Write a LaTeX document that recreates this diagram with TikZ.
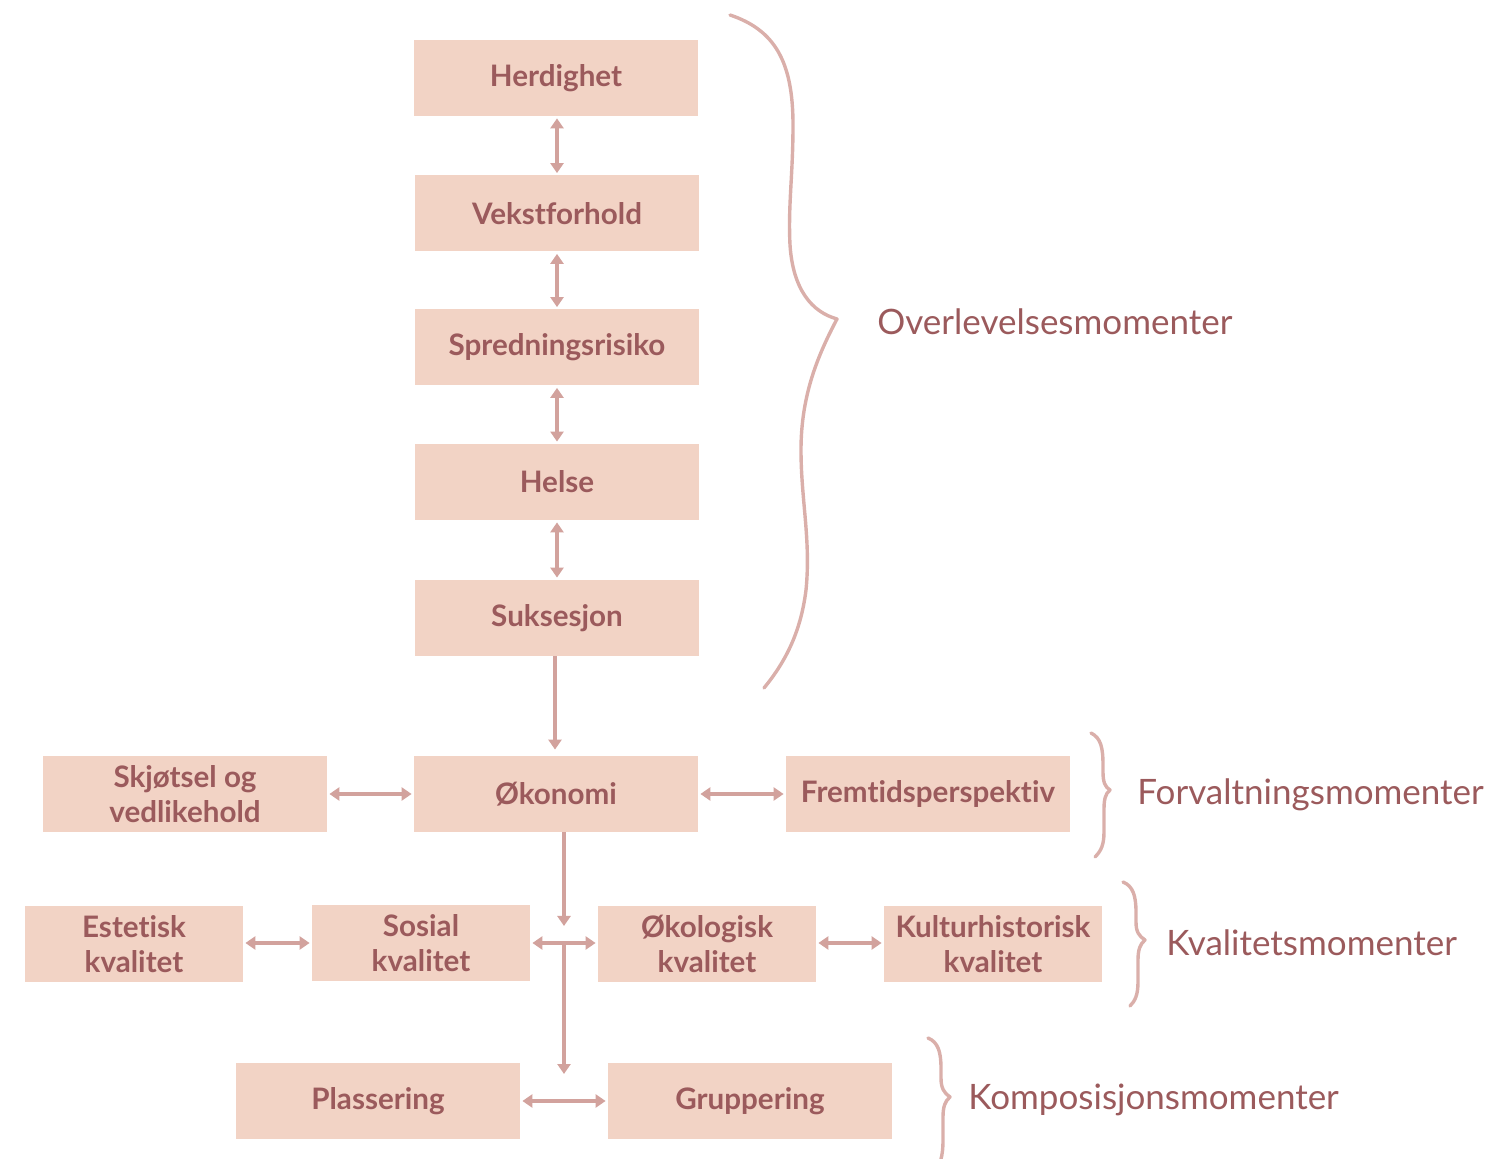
\documentclass[tikz,border=0pt]{standalone}
\usepackage{fontspec}
\setmainfont{Lato}[Ligatures=NoCommon]
\usetikzlibrary{arrows.meta}
\definecolor{boxfill}{HTML}{F2D3C5}
\definecolor{txtcol}{HTML}{9B5A5C}
\definecolor{arrcol}{HTML}{D2A29D}
\definecolor{bracecol}{HTML}{DAAFAA}
\tikzset{
  box/.style={fill=boxfill, inner sep=0pt, text=txtcol, font=\fontsize{14.8}{17.5}\selectfont\bfseries, align=center},
  wbox/.style={box, minimum width=142pt, minimum height=38pt},
  nbox/.style={box, minimum width=109pt, minimum height=38pt},
  conn/.style={draw=arrcol, line width=1.6pt},
  dbl/.style={conn, {Triangle[width=6.5pt,length=5pt]}-{Triangle[width=6.5pt,length=5pt]}},
  sgl/.style={conn, -{Triangle[width=6.5pt,length=5pt]}},
  bracestyle/.style={draw=bracecol, line width=1.7pt, line cap=round, line join=round},
  lab/.style={text=txtcol, font=\fontsize{17.5}{20}\selectfont, anchor=west, inner sep=0pt}
}
\begin{document}
\begin{tikzpicture}[x=0.5pt, y=-0.5pt]
\useasboundingbox (0,0) rectangle (1500,1159);
% top column
\node[wbox] (her) at (556,78) {Herdighet};
\node[wbox] (vek) at (557,213.5) {Vekstforhold};
\node[wbox] (spr) at (557,347.5) {Spredningsrisiko};
\node[wbox] (hel) at (557,482) {Helse};
\node[wbox] (suk) at (557,618) {Suksesjon};
% row Forvaltning
\node[wbox] (oko) at (556,794) {Økonomi};
\node[wbox] (skj) at (185,794) {Skjøtsel og\\vedlikehold};
\node[wbox] (fre) at (928,794) {Fremtidsperspektiv};
% row Kvalitet
\node[nbox] (est) at (134,944) {Estetisk\\kvalitet};
\node[nbox] (sos) at (421,943) {Sosial\\kvalitet};
\node[nbox] (ekol) at (707,944) {Økologisk\\kvalitet};
\node[nbox] (kul) at (993,944) {Kulturhistorisk\\kvalitet};
% row Komposisjon
\node[wbox] (pla) at (378,1101) {Plassering};
\node[wbox] (gru) at (750,1101) {Gruppering};

% vertical double arrows
\draw[dbl] ([yshift=-1pt]her.south -| vek.south) -- ([yshift=1pt]vek.north);
\draw[dbl] ([yshift=-1pt]vek.south) -- ([yshift=1pt]spr.north);
\draw[dbl] ([yshift=-1pt]spr.south) -- ([yshift=1pt]hel.north);
\draw[dbl] ([yshift=-1pt]hel.south) -- ([yshift=1pt]suk.north);
% Suksesjon -> Økonomi
\coordinate (sukx) at (555,0);
\draw[sgl] (suk.south -| sukx) -- ([yshift=3pt]oko.north -| sukx);
% horizontal double arrows
\draw[dbl] ([xshift=1pt]skj.east) -- ([xshift=-1pt]oko.west);
\draw[dbl] ([xshift=1pt]oko.east) -- ([xshift=-1pt]fre.west);
\draw[dbl] ([xshift=1pt]est.east |- sos.east) -- ([xshift=-1pt]sos.west);
\draw[dbl] ([xshift=1pt]sos.east) -- ([xshift=-1pt]ekol.west |- sos.east);
\draw[dbl] ([xshift=1pt]ekol.east |- sos.east) -- ([xshift=-1pt]kul.west |- sos.east);
\draw[dbl] ([xshift=1pt]pla.east) -- ([xshift=-1pt]gru.west);
% Økonomi down / junction
\coordinate (j) at (564,943);
\coordinate (jt) at (564,926);
\coordinate (jb) at (564,1074);
\draw[sgl] (oko.south -| j) -- (jt);
\draw[sgl] (j) -- (jb);

% big brace
\draw[bracestyle] (730,15) .. controls (775,30) and (793,62) .. (793,125)
  .. controls (793,175) and (788,205) .. (790,245)
  .. controls (793,290) and (812,312) .. (837,319)
  .. controls (818,355) and (801,395) .. (801,450)
  .. controls (801,500) and (811,540) .. (806,590)
  .. controls (801,630) and (787,660) .. (764,688);
% Forvaltning brace
\draw[bracestyle] (1091,733) .. controls (1101,738) and (1103,748) .. (1103,765)
  -- (1103,772) .. controls (1103,782) and (1105,787) .. (1110,790)
  .. controls (1105,794) and (1104,800) .. (1104,810)
  -- (1104,832) .. controls (1104,845) and (1101,851) .. (1095,857);
% Kvalitet brace
\draw[bracestyle] (1123,882) .. controls (1133,886) and (1136,896) .. (1136,912)
  -- (1136,922) .. controls (1136,932) and (1139,936) .. (1145,940)
  .. controls (1140,944) and (1138,950) .. (1138,960)
  -- (1138,982) .. controls (1138,995) and (1135,1001) .. (1130,1006);
% Komposisjon brace
\draw[bracestyle] (928,1038) .. controls (938,1042) and (941,1052) .. (941,1068)
  -- (941,1078) .. controls (941,1088) and (944,1093) .. (950,1097)
  .. controls (945,1101) and (943,1107) .. (943,1117)
  -- (943,1140) .. controls (943,1150) and (942,1155) .. (941,1159);

% labels
\node[lab] (l1) at (877,322) {Overlevelsesmomenter};
\node[lab] (l2) at (1137,795) {Forvaltningsmomenter};
\node[lab] (l3) at (1166,943) {Kvalitetsmomenter};
\node[lab] (l4) at (968,1100) {Komposisjonsmomenter};
\end{tikzpicture}
\end{document}
